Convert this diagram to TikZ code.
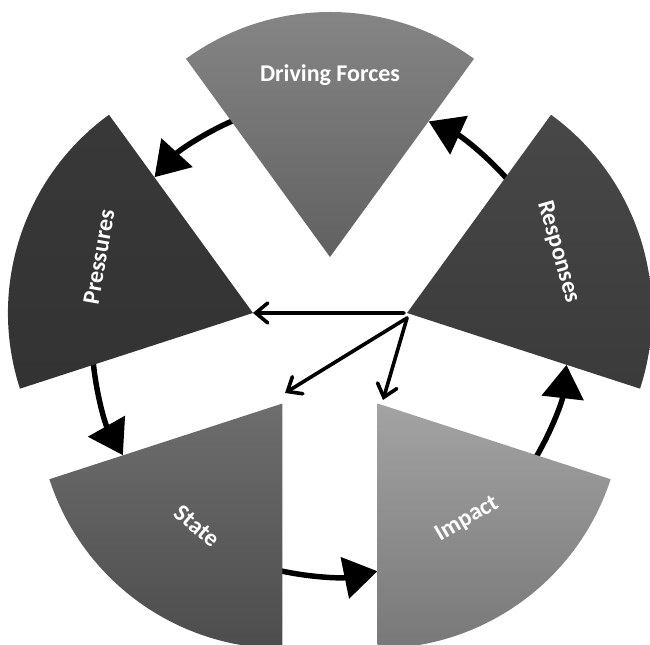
\documentclass[tikz,border=0pt]{standalone}
\usepackage{fontspec}
\setmainfont{Carlito}
\usetikzlibrary{arrows.meta,calc}
\begin{document}
\begin{tikzpicture}[x=0.75pt,y=0.75pt,
  bigarrow/.style={line width=4.1pt, -{Triangle[length=25pt,width=31pt]}},
  ctrarrow/.style={line width=2.7pt, line cap=round, -{Straight Barb[length=9pt,width=15pt,line cap=round]}},
  lbl/.style={text=white, font=\bfseries\fontsize{18}{20}\selectfont, inner sep=0pt},
]
\useasboundingbox (0,0) rectangle (650,645);
\clip (0,0) rectangle (650,645);
\coordinate (C) at (330,307);
\foreach \n/\a in {DF/90, P/162, S/234, I/306, R/18} { \path (C) ++(\a:81) coordinate (a\n); }
% circular arrows (drawn beneath the sectors)
\foreach \t [count=\i] in {90,162,234,306,18} {
  \path (C) ++(\t+21:238) coordinate (s\i);
  \draw[bigarrow] (s\i) arc[start angle=\t+21, end angle=\t+47.5, radius=238];
}
% sectors
\shade[top color=black!47, bottom color=black!62] (aDF) -- ++(54:245) arc[start angle=54,end angle=126,radius=245] -- cycle;
\shade[top color=black!78, bottom color=black!80] (aP) -- ++(126:245) arc[start angle=126,end angle=198,radius=245] -- cycle;
\shade[top color=black!57, bottom color=black!70] (aS) -- ++(198:245) arc[start angle=198,end angle=270,radius=245] -- cycle;
\shade[top color=black!36, bottom color=black!53] (aI) -- ++(270:245) arc[start angle=270,end angle=342,radius=245] -- cycle;
\shade[top color=black!72, bottom color=black!77] (aR) -- ++(-18:245) arc[start angle=-18,end angle=54,radius=245] -- cycle;
% labels
\node[lbl] (tDF) at (330,570) {Driving Forces};
\node[lbl, rotate=80] (tP) at (99,388) {Pressures};
\node[lbl, rotate=-74] (tR) at (558,393) {Responses};
\node[lbl, rotate=-40] (tS) at (197,119) {State};
\node[lbl, rotate=30] (tI) at (467,126) {Impact};
% centre arrows
\coordinate (h0) at (404,332);
\coordinate (d0) at (407,327);
\coordinate (eS) at (285,252);
\coordinate (eI) at (383,245);
\draw[ctrarrow] (h0) -- (aP);
\draw[ctrarrow] (d0) -- (eS);
\draw[ctrarrow] (d0) -- (eI);
\end{tikzpicture}
\end{document}
